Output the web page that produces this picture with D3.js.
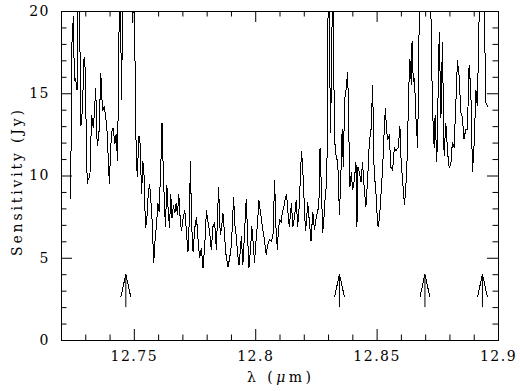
<!DOCTYPE html>
<html>
<head>
<meta charset="utf-8">
<script src="https://cdn.jsdelivr.net/npm/d3@7"></script>
<style>
  body { margin: 0; background: #fff; }
  svg { display: block; }
  text { font-family: "DejaVu Serif", serif; font-size: 14px; fill: #000; }
</style>
</head>
<body>
<svg></svg>
<script>
// spectrum (micron, Jy); values above 20 are clipped by the frame
var wavelength = [
  12.7240, 12.7244, 12.7251, 12.7255, 12.7260, 12.7266, 12.7273, 12.7282, 12.7288, 12.7295,
  12.7299, 12.7308, 12.7312, 12.7319, 12.7326, 12.7333, 12.7336, 12.7343, 12.7349, 12.7356,
  12.7364, 12.7371, 12.7378, 12.7384, 12.7390, 12.7399, 12.7403, 12.7408, 12.7415, 12.7422,
  12.7427, 12.7433, 12.7443, 12.7449, 12.7458, 12.7467, 12.7479, 12.7494, 12.7502, 12.7508,
  12.7514, 12.7521, 12.7525, 12.7532, 12.7537, 12.7542, 12.7548, 12.7553, 12.7559, 12.7565,
  12.7570, 12.7575, 12.7582, 12.7588, 12.7593, 12.7599, 12.7604, 12.7611, 12.7616, 12.7620,
  12.7625, 12.7630, 12.7636, 12.7641, 12.7647, 12.7652, 12.7657, 12.7663, 12.7669, 12.7674,
  12.7680, 12.7685, 12.7690, 12.7696, 12.7703, 12.7710, 12.7717, 12.7723, 12.7729, 12.7733,
  12.7738, 12.7744, 12.7751, 12.7758, 12.7764, 12.7771, 12.7778, 12.7785, 12.7792, 12.7799,
  12.7805, 12.7812, 12.7819, 12.7826, 12.7833, 12.7840, 12.7849, 12.7856, 12.7862, 12.7867,
  12.7873, 12.7878, 12.7888, 12.7895, 12.7902, 12.7911, 12.7916, 12.7922, 12.7927, 12.7933,
  12.7939, 12.7943, 12.7949, 12.7956, 12.7963, 12.7969, 12.7974, 12.7981, 12.7986, 12.7992,
  12.7997, 12.8004, 12.8010, 12.8015, 12.8021, 12.8026, 12.8031, 12.8038, 12.8045, 12.8052,
  12.8059, 12.8066, 12.8073, 12.8080, 12.8085, 12.8091, 12.8096, 12.8101, 12.8107, 12.8112,
  12.8118, 12.8124, 12.8129, 12.8134, 12.8140, 12.8145, 12.8149, 12.8155, 12.8162, 12.8169,
  12.8175, 12.8182, 12.8186, 12.8191, 12.8196, 12.8202, 12.8207, 12.8212, 12.8216, 12.8223,
  12.8230, 12.8237, 12.8244, 12.8251, 12.8258, 12.8262, 12.8267, 12.8273, 12.8278, 12.8284,
  12.8289, 12.8295, 12.8302, 12.8310, 12.8314, 12.8320, 12.8326, 12.8333, 12.8340, 12.8347,
  12.8354, 12.8358, 12.8363, 12.8368, 12.8374, 12.8381, 12.8385, 12.8390, 12.8396, 12.8401,
  12.8408, 12.8415, 12.8419, 12.8423, 12.8429, 12.8436, 12.8442, 12.8449, 12.8456, 12.8463,
  12.8470, 12.8477, 12.8484, 12.8488, 12.8492, 12.8498, 12.8504, 12.8508, 12.8514, 12.8519,
  12.8525, 12.8530, 12.8536, 12.8541, 12.8545, 12.8552, 12.8559, 12.8566, 12.8573, 12.8580,
  12.8589, 12.8596, 12.8600, 12.8604, 12.8610, 12.8615, 12.8621, 12.8626, 12.8632, 12.8637,
  12.8643, 12.8646, 12.8651, 12.8656, 12.8662, 12.8669, 12.8674, 12.8678, 12.8696, 12.8717,
  12.8730, 12.8737, 12.8741, 12.8748, 12.8758, 12.8765, 12.8771, 12.8778, 12.8785, 12.8793,
  12.8799, 12.8806, 12.8812, 12.8819, 12.8826, 12.8833, 12.8840, 12.8847, 12.8853, 12.8860,
  12.8867, 12.8874, 12.8881, 12.8888, 12.8895, 12.8902, 12.8909, 12.8915, 12.8922, 12.8929,
  12.8939, 12.8950, 12.8959
];
var sensitivity = [
  8.6, 17.7, 19.7, 15.8, 15.9, 15.2, 24, 13.0, 14.0, 17.2,
  16.6, 9.5, 9.8, 9.9, 13.7, 12.9, 13.5, 15.3, 11.8, 12.4,
  16.2, 13.9, 14.2, 13.6, 12.6, 9.5, 11.0, 12.6, 12.9, 11.9,
  12.5, 10.9, 24, 14.6, 24, 26, 30, 19.3, 21, 12.6,
  9.9, 12.4, 12.2, 8.9, 10.9, 10.0, 6.8, 7.2, 8.8, 9.5,
  8.5, 7.3, 4.7, 6.2, 6.9, 8.3, 7.8, 10.5, 13.2, 11.0,
  8.7, 6.9, 9.4, 8.0, 6.8, 8.9, 7.4, 8.2, 7.7, 8.3,
  7.6, 8.9, 7.6, 6.6, 7.4, 7.9, 6.5, 5.35, 7.5, 10.9,
  7.0, 5.35, 6.8, 7.5, 6.2, 5.0, 5.6, 4.4, 5.7, 7.9,
  7.2, 6.6, 5.5, 6.9, 7.1, 5.5, 9.3, 6.4, 6.9, 7.7,
  6.6, 5.35, 4.45, 5.0, 5.8, 8.7, 7.0, 6.3, 5.3, 4.55,
  5.5, 6.3, 4.55, 6.5, 8.6, 6.2, 4.4, 5.6, 6.9, 5.8,
  4.7, 6.2, 7.2, 8.5, 7.8, 7.3, 6.7, 6.1, 5.2, 5.8,
  6.1, 6.0, 6.3, 9.7, 7.0, 5.5, 6.8, 7.3, 7.2, 7.8,
  8.1, 8.6, 8.9, 7.9, 6.9, 7.6, 8.3, 6.9, 7.5, 8.5,
  6.9, 8.3, 10.0, 11.5, 10.3, 8.3, 6.6, 7.4, 8.4, 7.2,
  6.0, 7.8, 6.7, 7.4, 7.9, 8.1, 11.7, 9.0, 6.5, 7.6,
  8.9, 9.5, 24, 12.6, 15.9, 24, 12.3, 11.2, 10.8, 7.6,
  10.6, 12.8, 10.5, 14.6, 15.2, 16.3, 13.0, 9.3, 10.2, 9.1,
  9.7, 10.8, 6.9, 10.5, 10.2, 9.6, 10.8, 9.2, 8.1, 9.8,
  12.0, 12.8, 15.5, 11.0, 9.9, 8.8, 7.0, 6.9, 7.9, 9.1,
  10.5, 12.3, 14.1, 12.8, 12.2, 12.4, 10.5, 10.3, 11.7, 11.5,
  11.7, 13.0, 11.2, 10.3, 9.1, 8.2, 9.5, 11.1, 15.1, 17.1,
  15.5, 18.2, 15.7, 15.9, 13.5, 11.7, 17.4, 24, 30, 26,
  14.1, 11.7, 13.7, 10.8, 18.7, 13.5, 18.1, 11.2, 13.2, 11.3,
  10.5, 10.7, 12.0, 11.7, 14.2, 17.0, 16.0, 13.8, 13.6, 12.2,
  12.8, 12.8, 16.7, 15.2, 10.2, 12.0, 15.2, 14.2, 19.5, 24,
  24, 14.4, 14.2
];

// marked lines
var arrowWavelength = [12.7467, 12.8347, 12.8699, 12.8936];
var arrowFrom = 2, arrowTo = 4, arrowBarb = 2.6;

var xMajorTicks = [12.75, 12.8, 12.85, 12.9];
var xMinorTicks = [12.73, 12.74, 12.76, 12.77, 12.78, 12.79, 12.81, 12.82, 12.83, 12.84, 12.86, 12.87, 12.88, 12.89];
var yMajorTicks = [0, 5, 10, 15, 20];
var yMinorTicks = [1, 2, 3, 4, 6, 7, 8, 9, 11, 12, 13, 14, 16, 17, 18, 19];

var width = 520, height = 391;
var margin = {left: 61, top: 11, right: 22, bottom: 51};

var svg = d3.select("svg").attr("width", width).attr("height", height);

var x = d3.scaleLinear().domain([12.72, 12.9]).range([margin.left, width - margin.right]);
var y = d3.scaleLinear().domain([0, 20]).range([height - margin.bottom, margin.top]);

var plotLeft = x.range()[0], plotRight = x.range()[1];
var plotBottom = y.range()[0], plotTop = y.range()[1];

svg.append("clipPath").attr("id", "plot")
  .append("rect")
  .attr("x", plotLeft).attr("y", plotTop)
  .attr("width", plotRight - plotLeft)
  .attr("height", plotBottom - plotTop);

// the spectrum
var pts = wavelength.map((w, i) => [w, sensitivity[i]]);
svg.append("path")
  .datum(pts)
  .attr("clip-path", "url(#plot)")
  .attr("d", d3.line().x(d => x(d[0])).y(d => y(d[1])))
  .attr("fill", "none")
  .attr("stroke", "#000")
  .attr("stroke-width", 1)
  .attr("shape-rendering", "crispEdges");

// arrows
var arrows = svg.selectAll("g.arrow").data(arrowWavelength).enter().append("g").attr("class", "arrow");
arrows.append("line")
  .attr("x1", d => x(d)).attr("x2", d => x(d))
  .attr("y1", y(arrowFrom)).attr("y2", y(arrowTo))
  .attr("stroke", "#000");
arrows.append("path")
  .attr("d", d => "M" + (x(d) - 5) + "," + y(arrowBarb) + "L" + x(d) + "," + y(arrowTo) + "L" + (x(d) + 5) + "," + y(arrowBarb))
  .attr("fill", "none")
  .attr("stroke", "#000")
  .attr("shape-rendering", "crispEdges");

// axes, ticks point inwards on all four sides
function drawAxis(axis, tx, ty, vals, size, labels) {
  var g = svg.append("g").attr("transform", "translate(" + tx + "," + ty + ")")
    .call(axis.tickValues(vals).tickSize(size).tickPadding(11)
      .tickFormat(labels ? (d => String(d)) : ""));
  g.select(".domain").remove();
  g.selectAll("text").attr("font-family", null).attr("font-size", null).style("letter-spacing", "1.5px");
  g.selectAll("line").attr("stroke", "#000");
  return g;
}

drawAxis(d3.axisBottom(x), 0, plotBottom, xMajorTicks, -11, true);
drawAxis(d3.axisBottom(x), 0, plotBottom, xMinorTicks, -5.5, false);
drawAxis(d3.axisTop(x), 0, plotTop, xMajorTicks, -11, false);
drawAxis(d3.axisTop(x), 0, plotTop, xMinorTicks, -5.5, false);
drawAxis(d3.axisLeft(y), plotLeft, 0, yMajorTicks, -11, true);
drawAxis(d3.axisLeft(y), plotLeft, 0, yMinorTicks, -5.5, false);
drawAxis(d3.axisRight(y), plotRight, 0, yMajorTicks, -11, false);
drawAxis(d3.axisRight(y), plotRight, 0, yMinorTicks, -5.5, false);

svg.append("rect")
  .attr("x", plotLeft + 0.5).attr("y", plotTop + 0.5)
  .attr("width", plotRight - plotLeft).attr("height", plotBottom - plotTop)
  .attr("fill", "none").attr("stroke", "#000");

// titles
var xTitle = svg.append("text")
  .attr("x", 279)
  .attr("y", 382)
  .attr("text-anchor", "middle")
  .attr("textLength", 64)
  .attr("lengthAdjust", "spacing");
xTitle.append("tspan").text("\u03bb (");
xTitle.append("tspan").attr("font-style", "italic").text("\u03bc");
xTitle.append("tspan").text("m)");

svg.append("text")
  .attr("transform", "translate(17,183) rotate(-90)")
  .attr("dy", "0.35em")
  .attr("text-anchor", "middle")
  .attr("textLength", 146)
  .attr("lengthAdjust", "spacing")
  .text("Sensitivity (Jy)");
</script>
</body>
</html>
